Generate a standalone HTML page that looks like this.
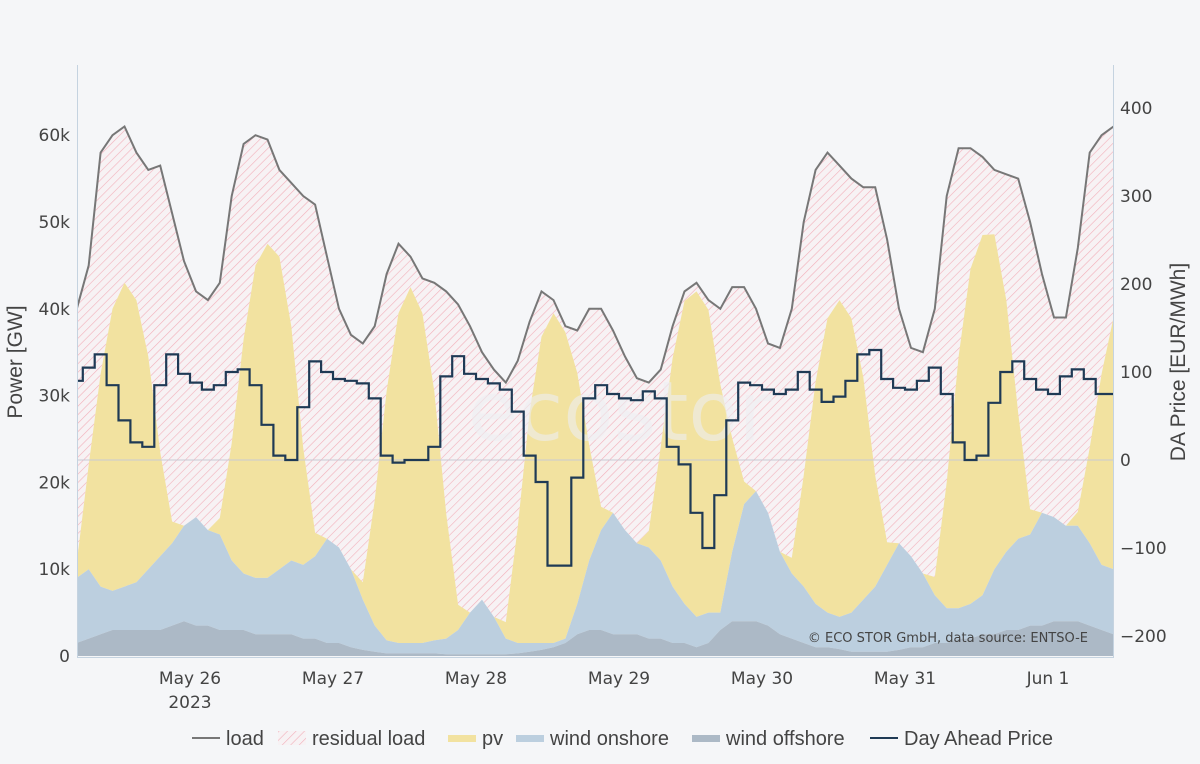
<!DOCTYPE html>
<html><head><meta charset="utf-8"><style>
body{margin:0;background:#f5f6f8;}
svg{display:block;font-family:"Liberation Sans",sans-serif;}
</style></head><body>
<svg id="chart" width="1200" height="764" viewBox="0 0 1200 764">
<defs>
<pattern id="hatch" patternUnits="userSpaceOnUse" width="6" height="6" patternTransform="rotate(45)">
<rect width="6" height="6" fill="#f7f2f4"/>
<line x1="0" y1="0" x2="0" y2="6" stroke="#f2b0ba" stroke-width="1.2"/>
</pattern>
<clipPath id="plotclip"><rect x="78" y="60" width="1035" height="597"/></clipPath>
</defs>
<rect width="1200" height="764" fill="#f5f6f8"/>
<g id="areas" clip-path="url(#plotclip)"></g>
<text x="620" y="440" font-size="82" fill="#eceef1" fill-opacity="0.6" text-anchor="middle" font-family="DejaVu Sans, sans-serif">ecostor</text>
<g id="lines" clip-path="url(#plotclip)"></g>
<g id="axes"></g>
<text x="1088" y="642" font-size="13" fill="#444" text-anchor="end" font-family="DejaVu Sans, sans-serif">© ECO STOR GmbH, data source: ENTSO-E</text>
<text transform="translate(22,362) rotate(-90)" font-size="21" fill="#444" text-anchor="middle">Power [GW]</text>
<text transform="translate(1185,362) rotate(-90)" font-size="21" fill="#444" text-anchor="middle">DA Price [EUR/MWh]</text>
<g id="legend" font-size="20" fill="#444">
<g><line x1="192" y1="738" x2="220" y2="738" stroke="#777" stroke-width="2"/><text x="226" y="745">load</text></g>
<g><rect x="278" y="731" width="28" height="14" fill="url(#hatch)"/><text x="312" y="745">residual load</text></g>
<g><rect x="448" y="735" width="28" height="7" fill="#f2e2a0"/><text x="482" y="745">pv</text></g>
<g><rect x="516" y="735" width="28" height="7" fill="#bccfdf"/><text x="550" y="745">wind onshore</text></g>
<g><rect x="692" y="735" width="28" height="7" fill="#acb9c6"/><text x="726" y="745">wind offshore</text></g>
<g><line x1="870" y1="738" x2="898" y2="738" stroke="#1f3a55" stroke-width="2"/><text x="904" y="745">Day Ahead Price</text></g>
</g>
</svg>
<script>
const startHour = 5; const stepHours = 2;
const load = [40,45,58,60,61,58,56,56.5,51,45.5,42,41,43,53,59,60,59.5,56,54.5,53,52,46,40,37,36,38,44,47.5,46,43.5,43,42,40.5,38,35,33,31.5,34,38.5,42,41,38,37.5,40,40,37.5,34.5,32,31.5,33,38,42,43,41,40,42.5,42.5,40,36,35.5,40,50,56,58,56.5,55,54,54,48,40,35.5,35,40,53,58.5,58.5,57.5,56,55.5,55,50,44,39,39,47,58,60,61];
const windOffshore = [1.5,2,2.5,3,3,3,3,3,3.5,4,3.5,3.5,3,3,3,2.5,2.5,2.5,2.5,2,2,1.5,1.5,1,0.7,0.5,0.3,0.3,0.3,0.3,0.3,0.2,0.2,0.2,0.2,0.2,0.2,0.3,0.5,0.7,1,1.5,2.5,3,3,2.5,2.5,2.5,2,2,1.5,1.5,1,1.5,3,4,4,4,3.5,2.5,2,1.5,1,1,0.8,0.5,0.5,0.5,0.5,0.7,1,1,1.5,1.5,2,2,2.5,2.5,3,3,3.5,3.5,4,4,4,3.5,3,2.5];
const windOnshore = [7.5,8,5.5,4.5,5,5.5,7,8.5,9.5,11,12.5,11,11,8,6.5,6.5,6.5,7.5,8.5,8.5,9.5,12,11,9,5.8,3,1.5,1.2,1.2,1.2,1.5,1.8,2.8,4.8,6.3,4.3,1.8,1.2,1,0.8,0.5,0.5,3.5,8,11.5,14,12,10.5,10.5,9,6.5,4.5,3.5,3.5,2,8,13.5,15,13,9.5,7.5,6.5,5,4,3.7,4.5,6,7.5,10,12.3,10.5,8.5,5.5,4,3.5,4,4.5,7.5,9,10.5,10.5,13,12,11,11,9.5,7.5,7.5];
const pv = [1.8,12,24.5,32.5,35,32.5,24.5,12,2.5,0, 0,0,1.9,13.5,27,36,38.5,36,27,13.5,2.7,0, 0,0,2,14.4,28.7,38,41,38,28.7,14.4,2.9,0, 0,0,1.9,13.3,26.6,35.3,38,35.3,26.6,13.3,2.7,0, 0,0,1.9,13.1,26.3,34.9,37.5,34.9,26.3,13.1,2.6,0, 0,0,1.8,12.8,25.6,33.9,36.5,33.9,25.6,12.8,2.6,0, 0,0,2.1,14.5,29,38.6,41.5,38.6,29,14.5,2.9,0, 0,0,1.6,11,22,29];
const price = [90,105,120,85,45,20,15,85,120,98,88,80,85,100,103,85,40,5,0,60,112,100,92,90,87,70,5,-3,0,0,15,95,118,98,92,87,80,55,5,-25,-120,-120,-20,70,85,75,70,68,78,70,15,-5,-60,-100,-40,45,88,85,80,75,80,100,80,66,72,90,120,125,92,82,80,90,105,75,20,0,5,65,100,112,92,80,75,95,103,92,75,75];
const leftTicks = [0,10,20,30,40,50,60];
const leftTickLabels = ["0","10k","20k","30k","40k","50k","60k"];
const rightTicks = [-200,-100,0,100,200,300,400];
const dateTicks = [24,48,72,96,120,144,168];
const dateLabels = ["May 26","May 27","May 28","May 29","May 30","May 31","Jun 1"];

const NS="http://www.w3.org/2000/svg";
const xOf = h => 190 + (h-24)*143/24;
const yL = v => 656 - v*8.68;
const yR = p => 460 - p*0.88;
const hourAt = i => startHour + i*stepHours;
function mk(tag, attrs, parent){const e=document.createElementNS(NS,tag);for(const k in attrs)e.setAttribute(k,attrs[k]);parent.appendChild(e);return e;}
const areas=document.getElementById('areas'), lines=document.getElementById('lines'), axes=document.getElementById('axes');
const n=load.length;
function areaPath(top,bottom){let d='';for(let i=0;i<n;i++)d+=(i?'L':'M')+xOf(hourAt(i)).toFixed(1)+','+yL(top[i]).toFixed(1);for(let i=n-1;i>=0;i--)d+='L'+xOf(hourAt(i)).toFixed(1)+','+yL(bottom[i]).toFixed(1);return d+'Z';}
const zero=load.map(()=>0);
const offTop=windOffshore.map(v=>v);
const onTop=windOnshore.map((v,i)=>v+offTop[i]);
const pvTop=pv.map((v,i)=>v+onTop[i]);
let p=mk('path',{d:areaPath(load,pvTop),fill:'url(#hatch)'},areas);


p=mk('path',{d:areaPath(pvTop,onTop),fill:'#f2e2a0'},areas);


p=mk('path',{d:areaPath(onTop,offTop),fill:'#bccfdf'},areas);


p=mk('path',{d:areaPath(offTop,zero),fill:'#acb9c6'},areas);


let zl=mk('line',{x1:78,x2:1113,y1:yR(0),y2:yR(0),stroke:'#c8c9d4','stroke-width':1},lines);


let d='';for(let i=0;i<n;i++)d+=(i?'L':'M')+xOf(hourAt(i)).toFixed(1)+','+yL(load[i]).toFixed(1);
p=mk('path',{d:d,fill:'none',stroke:'#777','stroke-width':2},lines);


d='';for(let i=0;i<n;i++){const x0=xOf(hourAt(i)-1),x1=xOf(hourAt(i)+1),y=yR(price[i]).toFixed(1);d+=(i?'L':'M')+x0.toFixed(1)+','+y+'L'+x1.toFixed(1)+','+y;}
p=mk('path',{d:d,fill:'none',stroke:'#1f3a55','stroke-width':2.2},lines);


let al=mk('line',{x1:77.5,x2:77.5,y1:65,y2:657,stroke:'#c5d3e0','stroke-width':1},axes);


let ar=mk('line',{x1:1113.5,x2:1113.5,y1:65,y2:657,stroke:'#c5d3e0','stroke-width':1},axes);


let ab=mk('line',{x1:77,x2:1114,y1:657.5,y2:657.5,stroke:'#c5d3e0','stroke-width':1},axes);


leftTicks.forEach((v,i)=>{const t=mk('text',{x:70,y:yL(v)+6,'font-size':17,fill:'#444','text-anchor':'end','font-family':'DejaVu Sans, sans-serif'},axes);t.textContent=leftTickLabels[i];

});
rightTicks.forEach(v=>{const t=mk('text',{x:1120,y:yR(v)+6,'font-size':17,fill:'#444','font-family':'DejaVu Sans, sans-serif'},axes);t.textContent=v<0?'\u2212'+(-v):String(v);

});
dateTicks.forEach((h,i)=>{const t=mk('text',{x:xOf(h),y:684,'font-size':17,fill:'#444','text-anchor':'middle','font-family':'DejaVu Sans, sans-serif'},axes);t.textContent=dateLabels[i];

});
const yr=mk('text',{x:xOf(24),y:708,'font-size':17,fill:'#444','text-anchor':'middle','font-family':'DejaVu Sans, sans-serif'},axes);yr.textContent='2023';


</script>
</body></html>
